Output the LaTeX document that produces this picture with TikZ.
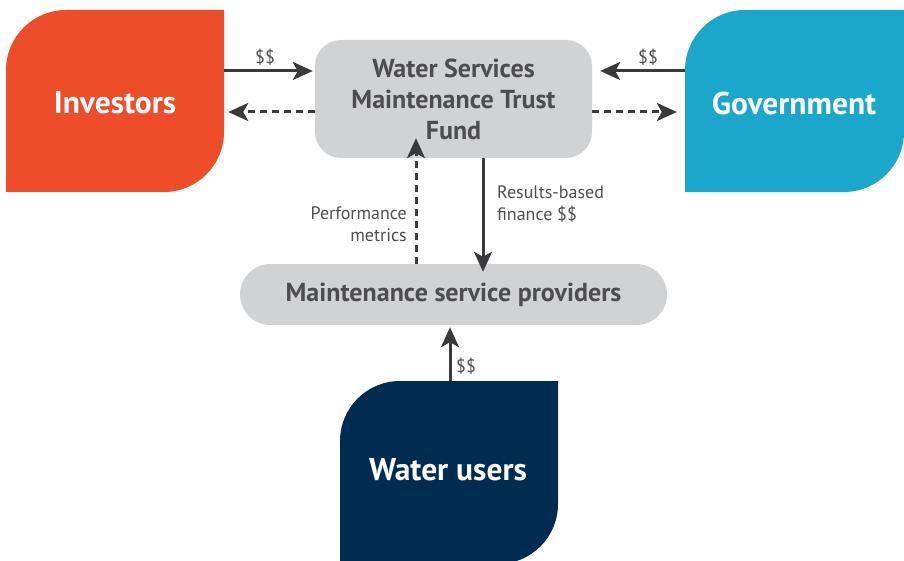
\documentclass[tikz,border=0pt]{standalone}
\usepackage{fontspec}
\setmainfont{PT Sans}
\usetikzlibrary{arrows.meta,calc}
\definecolor{invc}{HTML}{EE4D29}
\definecolor{govc}{HTML}{1AA7CB}
\definecolor{usrc}{HTML}{012C52}
\definecolor{boxc}{HTML}{D1D2D4}
\definecolor{txtc}{HTML}{4D4D4F}
\definecolor{arrc}{HTML}{3A3A3C}
\tikzset{
  x=1pt,y=-1pt,
  leaftext/.style={inner sep=0pt, text=white, font=\fontsize{31.5}{34}\selectfont\bfseries},
  graybox/.style={fill=boxc, inner sep=0pt, text=txtc, font=\fontsize{26}{31}\selectfont\bfseries, align=center},
  arr/.style={draw=arrc, line width=3pt, -{Stealth[length=20pt,width=18pt,inset=5pt]}},
  darr/.style={arr, dash pattern=on 7pt off 5pt},
  lbl/.style={text=txtc, font=\fontsize{18}{22}\selectfont, inner sep=0pt},
}
\newcommand{\leafshape}[5]{% color, x0, y0, x1, y1
  \fill[#1] (#2,#5) -- (#2,#3+60) arc[start angle=180,end angle=270,radius=60] -- (#4,#3)
    -- (#4,#5-60) arc[start angle=0,end angle=90,radius=60] -- cycle;}
\begin{document}
\begin{tikzpicture}
\useasboundingbox (0,0) rectangle (904,561);
\leafshape{invc}{6}{10}{224}{192}
\leafshape{govc}{685}{10}{904}{192}
\leafshape{usrc}{340}{381}{558}{564}
\node[minimum width=218pt, minimum height=182pt, inner sep=0pt] (inv) at (115,101) {};
\node[leaftext] at (115,103) {Investors};
\node[minimum width=219pt, minimum height=182pt, inner sep=0pt] (gov) at (794.5,101) {};
\node[leaftext] at (794,103) {Government};
\node[minimum width=218pt, minimum height=183pt, inner sep=0pt] (usr) at (449,472.5) {};
\node[leaftext] at (448,470) {Water users};
\node[graybox, rounded corners=26pt, minimum width=277pt, minimum height=118pt] (fund) at (453.5,99) {Water Services\\Maintenance Trust\\Fund};
\node[graybox, rounded corners=30.5pt, minimum width=427pt, minimum height=61pt] (msp) at (453.5,294.5) {Maintenance service providers};
% arrows
\draw[arr] ([yshift=30pt]inv.east) -- ([yshift=30pt,xshift=-2pt]inv.east -| fund.west);
\node[lbl] at (265,57) {\$\$};
\draw[darr] ([yshift=-13pt]fund.west) -- ([xshift=4pt]inv.east |- 0,112);
\draw[arr] ([yshift=30pt]gov.west) -- ([yshift=30pt,xshift=8pt]gov.west -| fund.east);
\node[lbl] at (648,57) {\$\$};
\draw[darr] ([yshift=-13pt]fund.east) -- ([xshift=-8pt]gov.west |- 0,112);
\coordinate (d1) at (483,158);
\draw[arr] (fund.south -| d1) -- ([yshift=-8pt]msp.north -| d1);
\node[lbl, anchor=west, align=left] at (497,204) {Results-based\\finance \$\$};
\coordinate (d2) at (416,0);
\draw[darr] (msp.north -| d2) -- ([yshift=20pt]fund.south -| d2);
\node[lbl, anchor=east, align=right] at (407,224) {Performance\\metrics};
\coordinate (d3) at (450,0);
\draw[arr] (usr.north -| d3) -- ([yshift=-2pt]msp.south -| d3);
\node[lbl] at (466,366) {\$\$};
\end{tikzpicture}
\end{document}
